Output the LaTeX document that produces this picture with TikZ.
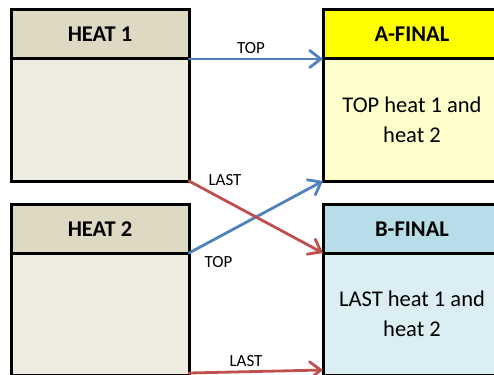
\documentclass[tikz,border=0pt]{standalone}
\usepackage{fontspec}
\setmainfont{Carlito}
\usetikzlibrary{arrows.meta}
\definecolor{tanhead}{HTML}{DDD9C3}
\definecolor{tanbody}{HTML}{EEECE1}
\definecolor{yelhead}{HTML}{FFFF00}
\definecolor{yelbody}{HTML}{FFFFCC}
\definecolor{bluhead}{HTML}{B7DDE8}
\definecolor{blubody}{HTML}{DBEEF4}
\definecolor{arrblue}{HTML}{4F81BD}
\definecolor{arrred}{HTML}{C0504D}
\tikzset{
  boxhead/.style={draw=black, line width=3pt, outer sep=0pt, inner sep=0pt,
    minimum width=178pt, minimum height=49pt,
    font=\fontsize{22.5}{26}\selectfont\bfseries},
  boxbody/.style={draw=black, line width=3pt, outer sep=0pt, inner sep=0pt,
    minimum width=178pt, minimum height=122pt, align=center,
    font=\fontsize{22.5}{30}\selectfont},
  conn/.style={line width=2.8pt, line cap=round,
    -{Straight Barb[length=11pt,width=17pt,line cap=round]}},
  lbl/.style={font=\fontsize{17}{20}\selectfont, inner sep=0pt}
}
\begin{document}
\begin{tikzpicture}[x=1pt,y=-1pt]
\useasboundingbox (0,0) rectangle (494,374);
\clip (0,0) rectangle (494,374);
\fill[white] (0,0) rectangle (494,374);
% boxes
\node[boxbody, fill=tanbody] (h1b) at (100,120) {};
\node[boxhead, fill=tanhead] (h1h) at (100,34.5) {HEAT 1};
\node[boxbody, fill=yelbody] (ab) at (412,120) {TOP heat 1 and\\heat 2};
\node[boxhead, fill=yelhead] (ah) at (412,34.5) {A-FINAL};
\node[boxbody, fill=tanbody] (h2b) at (100,314) {};
\node[boxhead, fill=tanhead] (h2h) at (100,229) {HEAT 2};
\node[boxbody, fill=blubody] (bb) at (412,314) {LAST heat 1 and\\heat 2};
\node[boxhead, fill=bluhead] (bh) at (412,229) {B-FINAL};
% free ends
\coordinate (l2s) at (189,373);
\coordinate (l2e) at (323,370);
% connectors
\draw[conn, draw=arrblue] (h1b.north east) -- (ab.north west);
\draw[conn, draw=arrblue] (h2b.north east) -- (ab.south west);
\draw[conn, draw=arrred] (h1b.south east) -- (bb.north west);
\draw[conn, draw=arrred] (l2s) -- (l2e);
% labels
\node[lbl] (t1) at (251,48) {TOP};
\node[lbl] (la1) at (225,180.5) {LAST};
\node[lbl] (t2) at (218.5,262) {TOP};
\node[lbl] (la2) at (246,361) {LAST};
\end{tikzpicture}
\end{document}
